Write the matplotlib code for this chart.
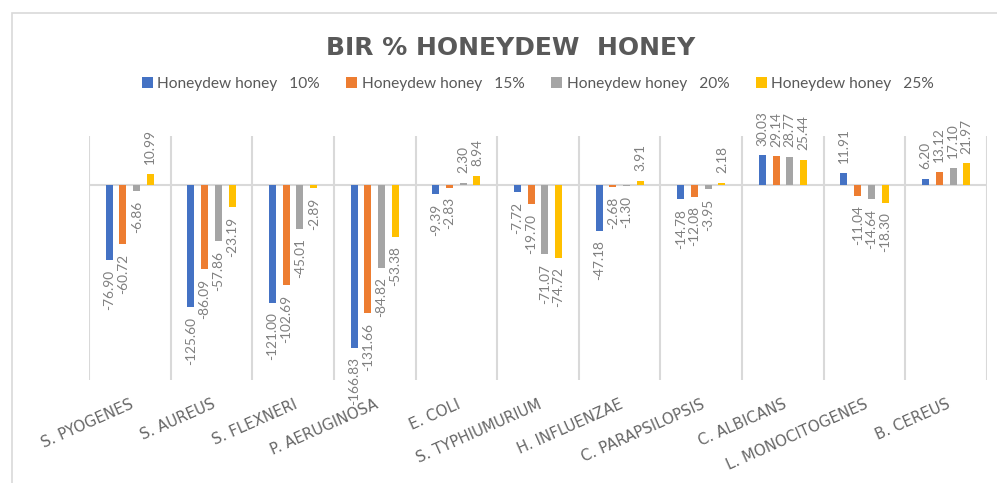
import matplotlib
matplotlib.use("Agg")
import matplotlib.pyplot as plt
from matplotlib.patches import Rectangle
import numpy as np

categories = ["S. PYOGENES", "S. AUREUS", "S. FLEXNERI", "P. AERUGINOSA", "E. COLI",
              "S. TYPHIUMURIUM", "H. INFLUENZAE", "C. PARAPSILOPSIS", "C. ALBICANS",
              "L. MONOCITOGENES", "B. CEREUS"]
series_names = ["Honeydew honey   10%", "Honeydew honey   15%",
                "Honeydew honey   20%", "Honeydew honey   25%"]
honey_10 = [-76.90, -125.60, -121.00, -166.83, -9.39, -7.72, -47.18, -14.78, 30.03, 11.91, 6.20]
honey_15 = [-60.72, -86.09, -102.69, -131.66, -2.83, -19.70, -2.68, -12.08, 29.14, -11.04, 13.12]
honey_20 = [-6.86, -57.86, -45.01, -84.82, 2.30, -71.07, -1.30, -3.95, 28.77, -14.64, 17.10]
honey_25 = [10.99, -23.19, -2.89, -53.38, 8.94, -74.72, 3.91, 2.18, 25.44, -18.30, 21.97]
title = "BIR % HONEYDEW  HONEY"

colors = ["#4472C4", "#ED7D31", "#A5A5A5", "#FFC000"]
series = [honey_10, honey_15, honey_20, honey_25]

W, H = 997, 483
fig = plt.figure(figsize=(W / 100, H / 100), dpi=100)
ax = fig.add_axes([89 / W, 1 - 380 / H, (987 - 89) / W, (380 - 136) / H])

n = len(categories)
x = np.arange(n)
pitch = 0.168
bw = 0.086
text_font = ["Lato", "DejaVu Sans"]

handles = []
for k, (vals, col, name) in enumerate(zip(series, colors, series_names)):
    pos = x + (k - 1.5) * pitch
    bars = ax.bar(pos, vals, width=bw, color=col, label=name, zorder=3)
    handles.append(bars)
    for xp, v in zip(pos, vals):
        ax.annotate(f"{v:.2f}", (xp, v), xytext=(0, 7 if v >= 0 else -7),
                    textcoords="offset points", rotation=90, ha="center",
                    va="bottom" if v >= 0 else "top", fontsize=9.8,
                    color="#7F7F7F", family=text_font, zorder=4)

ax.set_xlim(-0.5, n - 0.5)
ax.set_ylim(-200, 50)
ax.axhline(0, color="#D9D9D9", lw=1.5, zorder=2)
ax.set_xticks(x)
ax.set_xticklabels(categories, rotation=24, ha="right", va="top",
                   rotation_mode="anchor", fontsize=10.8, color="#666666",
                   family=["DejaVu Sans"])
ax.set_xticks(np.arange(-0.5, n, 1.0), minor=True)
ax.tick_params(axis="x", which="both", length=0, pad=12)
ax.grid(True, axis="x", which="minor", color="#D9D9D9", lw=1.5, zorder=1)
ax.set_yticks([])
for s in ax.spines.values():
    s.set_visible(False)

fig.text(511 / W, 1 - 48 / H, title, ha="center", va="center", fontsize=18,
         fontweight="bold", color="#595959", family=["DejaVu Sans"])

leg = fig.legend(handles=handles, labels=series_names, loc="center",
                 bbox_to_anchor=(538 / W, 1 - 84 / H), ncol=4, frameon=False,
                 handlelength=0.7, handleheight=0.7, handletextpad=0.3,
                 columnspacing=1.7, prop={"family": text_font, "size": 11.2})
for t in leg.get_texts():
    t.set_color("#595959")

fig.patches.append(Rectangle((12 / W, -0.1), 1.2, 0.1 + (1 - 13 / H),
                             transform=fig.transFigure, fill=False,
                             edgecolor="#D9D9D9", lw=1.2, zorder=0))

fig.savefig("out.png", dpi=100)
